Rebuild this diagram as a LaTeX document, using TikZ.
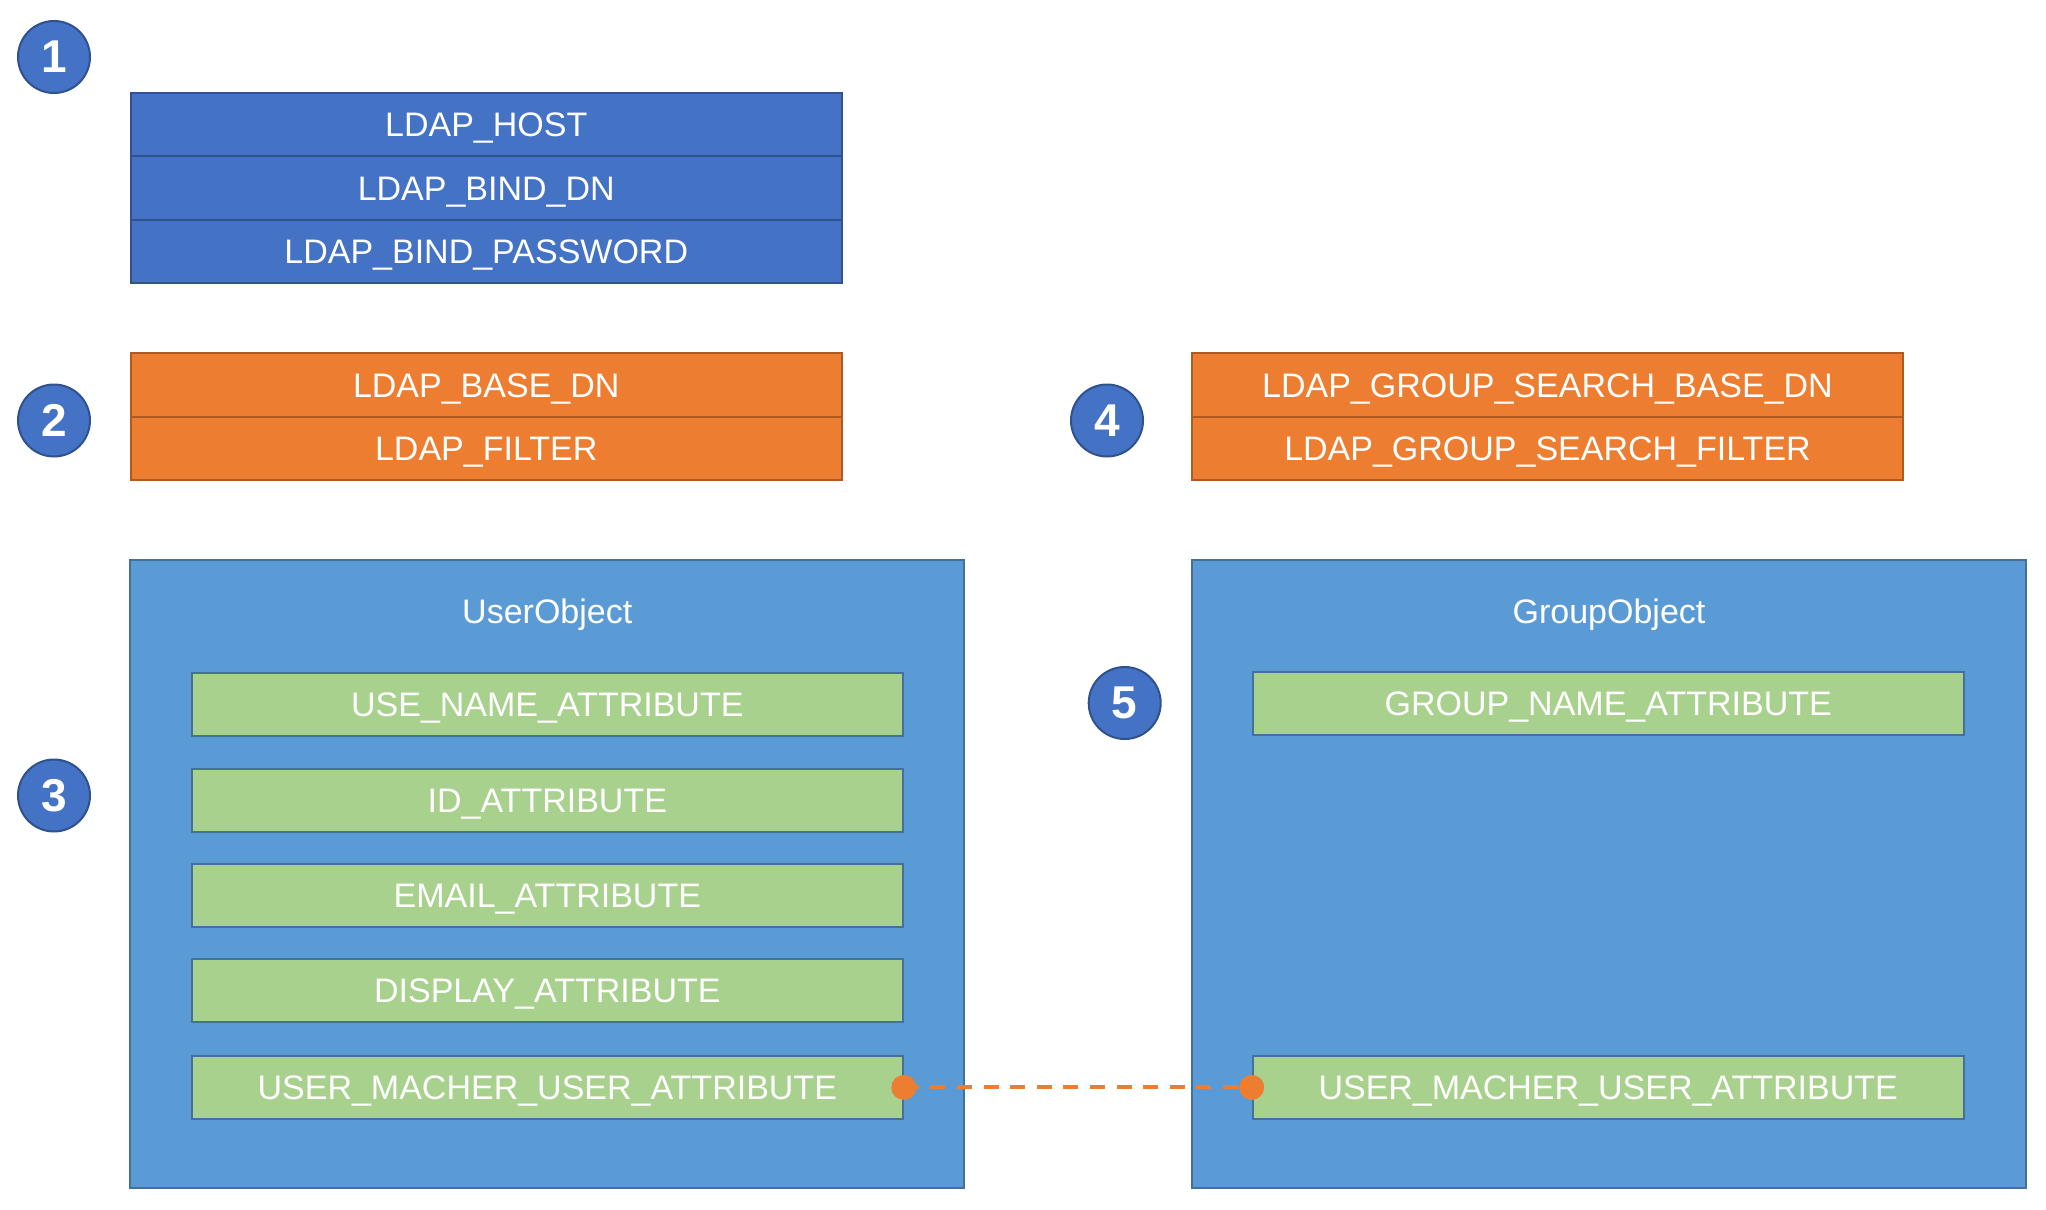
\documentclass[tikz,border=0pt]{standalone}
\usepackage{fontspec}
\setmainfont{Liberation Sans}
\definecolor{cblue}{HTML}{4472C4}
\definecolor{cblueb}{HTML}{2F528F}
\definecolor{corange}{HTML}{ED7D31}
\definecolor{corangeb}{HTML}{AE5A21}
\definecolor{ccont}{HTML}{5B9BD5}
\definecolor{ccontb}{HTML}{41719C}
\definecolor{cgreen}{HTML}{A9D18E}
\tikzset{
  txt/.style={text=white,font=\fontsize{17}{20}\selectfont,text height=12.17pt,text depth=0pt},
  bluerow/.style={txt,draw=cblueb,fill=cblue,line width=1pt,minimum width=355.75pt,minimum height=31.75pt,inner sep=0pt},
  orangerow/.style={txt,draw=corangeb,fill=corange,line width=1pt,minimum width=355.5pt,minimum height=31.75pt,inner sep=0pt},
  container/.style={draw=ccontb,fill=ccont,line width=1pt,minimum width=417pt,minimum height=314pt,inner sep=0pt},
  greenrow/.style={txt,draw=ccontb,fill=cgreen,line width=1pt,minimum width=355.5pt,minimum height=31.5pt,inner sep=0pt},
  title/.style={txt,inner sep=0pt},
  badge/.style={circle,draw=cblueb,fill=cblue,line width=1pt,minimum size=36pt,inner sep=0pt,text=white,font=\fontsize{23}{23}\selectfont\bfseries},
  dotlink/.style={draw=corange,line width=2pt,dash pattern=on 7.5pt off 5.8pt},
  dotend/.style={circle,fill=corange,minimum size=12.5pt,inner sep=0pt}
}
\begin{document}
\begin{tikzpicture}[x=0.5pt,y=-0.5pt]
\useasboundingbox (0,0) rectangle (2046,1210);
% badges
\node[badge] (b1) at (54,57) {1};
\node[badge] (b2) at (54,420.5) {2};
\node[badge] (b3) at (54,795.5) {3};
\node[badge] (b4) at (1107,420.5) {4};
\node[badge] (b5) at (1124.7,703) {5};
% connection block
\node[bluerow] (host) at (486.25,124.6) {LDAP\_HOST};
\node[bluerow] (binddn) at (486.25,188.1) {LDAP\_BIND\_DN};
\node[bluerow] (bindpw) at (486.25,251.6) {LDAP\_BIND\_PASSWORD};
% user search
\node[orangerow] (basedn) at (486.25,385.2) {LDAP\_BASE\_DN};
\node[orangerow] (filter) at (486.25,448.7) {LDAP\_FILTER};
% group search
\node[orangerow] (gbasedn) at (1547.5,385.2) {LDAP\_GROUP\_SEARCH\_BASE\_DN};
\node[orangerow] (gfilter) at (1547.5,448.7) {LDAP\_GROUP\_SEARCH\_FILTER};
% user object
\node[container] (uobj) at (547.25,874.4) {};
\node[title] (utitle) at (547.25,611.6) {UserObject};
\node[greenrow] (u1) at (547.3,704) {USE\_NAME\_ATTRIBUTE};
\node[greenrow] (u2) at (547.3,800) {ID\_ATTRIBUTE};
\node[greenrow] (u3) at (547.3,895.5) {EMAIL\_ATTRIBUTE};
\node[greenrow] (u4) at (547.3,990.4) {DISPLAY\_ATTRIBUTE};
\node[greenrow] (u5) at (547.3,1087.4) {USER\_MACHER\_USER\_ATTRIBUTE};
% group object
\node[container] (gobj) at (1609,874.4) {};
\node[title] (gtitle) at (1609,611.6) {GroupObject};
\node[greenrow] (g1) at (1608.2,703.4) {GROUP\_NAME\_ATTRIBUTE};
\node[greenrow] (g2) at (1608.2,1087.4) {USER\_MACHER\_USER\_ATTRIBUTE};
% link
\draw[dotlink] (u5.east) -- (g2.west);
\node[dotend] (d1) at (u5.east) {};
\node[dotend] (d2) at (g2.west) {};
\end{tikzpicture}
\end{document}
